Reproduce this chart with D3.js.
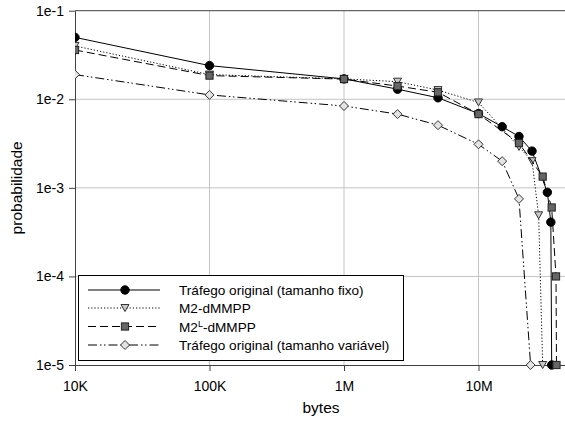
<!DOCTYPE html>
<html><head><meta charset="utf-8">
<script src="https://cdn.jsdelivr.net/npm/d3@7"></script>
<style>
html,body{margin:0;padding:0;background:#fff;}
svg{display:block;font-family:"Liberation Sans",Arial,sans-serif;}
</style></head>
<body><svg id="c" width="565" height="425"></svg>
<script>
// ---- data ----
const xTicks = [1e4, 1e5, 1e6, 1e7];
const xTickLabels = ["10K", "100K", "1M", "10M"];
const yTicks = [1e-5, 1e-4, 1e-3, 1e-2, 1e-1];
const yTickLabels = ["1e-5", "1e-4", "1e-3", "1e-2", "1e-1"];

const fixoX = [1e4, 1e5, 1e6, 2.5e6, 5e6, 1e7, 1.5e7, 2e7, 2.5e7, 3.25e7, 3.45e7, 3.5e7];
const fixoY = [0.05, 0.024, 0.017, 0.013, 0.0104, 0.0069, 0.0049, 0.0038, 0.0026, 0.00089, 0.00041, 1e-5];

const m2X = [1e4, 1e5, 1e6, 2.5e6, 5e6, 1e7, 2e7, 2.5e7, 2.8e7, 3.0e7];
const m2Y = [0.04, 0.019, 0.017, 0.0158, 0.0127, 0.0092, 0.0029, 0.0020, 0.00049, 1e-5];

const m2lX = [1e4, 1e5, 1e6, 2.5e6, 5e6, 1e7, 2e7, 3e7, 3.5e7, 3.77e7, 3.8e7];
const m2lY = [0.036, 0.0185, 0.0169, 0.0141, 0.012, 0.0068, 0.0032, 0.00134, 0.0006, 0.0001, 1e-5];

const varX = [1e4, 1e5, 1e6, 2.5e6, 5e6, 1e7, 1.5e7, 2e7, 2.44e7];
const varY = [0.019, 0.0112, 0.0084, 0.0068, 0.0051, 0.0031, 0.002, 0.00075, 1e-5];

const seriesNames = ["Tráfego original (tamanho fixo)", "M2-dMMPP", "M2L-dMMPP", "Tráfego original (tamanho variável)"];

// ---- layout ----
const svg = d3.select("#c");
const pLeft = 75, pTop = 10.7, pBottom = 365, pRight = 613;
const x = d3.scaleLog().domain([1e4, 1e8]).range([pLeft, pRight]);
const y = d3.scaleLog().domain([1e-5, 1e-1]).range([pBottom, pTop]);

const styles = [
  {dash: null, marker: "circle", fill: "#000", stroke: "#000"},
  {dash: "1.2,2", marker: "tri", fill: "#c8c8c8", stroke: "#333"},
  {dash: "8,4", marker: "square", fill: "#666", stroke: "#222"},
  {dash: "9,3,1.5,2.5,1.5,3", marker: "diamond", fill: "#e4e4e4", stroke: "#333"}
];

const defs = svg.append("defs");
defs.append("clipPath").attr("id", "clip").append("rect")
  .attr("x", pLeft).attr("y", pTop - 6).attr("width", pRight - pLeft + 10).attr("height", pBottom - pTop + 12);

// grid
const g = svg.append("g");
g.selectAll("line.vg").data(xTicks.slice(1)).enter().append("line")
  .attr("x1", d => x(d)).attr("x2", d => x(d)).attr("y1", pTop).attr("y2", pBottom)
  .attr("stroke", "#c4c4c4").attr("stroke-width", 1);
g.selectAll("line.hg").data(yTicks.slice(1, 4)).enter().append("line")
  .attr("x1", pLeft).attr("x2", 565).attr("y1", d => y(d)).attr("y2", d => y(d))
  .attr("stroke", "#c4c4c4").attr("stroke-width", 1);

// top border
svg.append("line").attr("x1", pLeft).attr("x2", 565).attr("y1", pTop).attr("y2", pTop)
  .attr("stroke", "#404040").attr("stroke-width", 1);

// axes
const xAxis = d3.axisBottom(x).tickValues(xTicks).tickFormat((d, i) => xTickLabels[i]).tickSize(6).tickSizeOuter(0);
const yAxis = d3.axisLeft(y).tickValues(yTicks).tickFormat((d, i) => yTickLabels[i]).tickSize(6).tickSizeOuter(0);
const gx = svg.append("g").attr("transform", `translate(0,${pBottom})`).call(xAxis);
const gy = svg.append("g").attr("transform", `translate(${pLeft},0)`).call(yAxis);
[gx, gy].forEach(a => {
  a.select(".domain").attr("stroke", "#404040");
  a.selectAll(".tick line").attr("stroke", "#404040");
  a.selectAll("text").attr("fill", "#000").style("font-size", "14px").style("font-family", "Liberation Sans, Arial, sans-serif");
});
gx.select(".domain").attr("d", `M${pLeft},0.5H565`);
gx.selectAll(".tick text").attr("dy", "1.2em");
gy.selectAll(".tick text").attr("x", -11);

// titles
svg.append("text").attr("x", 321).attr("y", 413).attr("text-anchor", "middle")
  .style("font-size", "15.5px").text("bytes");
svg.append("text").attr("transform", `translate(22,${(pTop + pBottom) / 2}) rotate(-90)`).attr("text-anchor", "middle")
  .style("font-size", "15.5px").text("probabilidade");

// markers
function drawMarker(sel, type, st) {
  if (type === "circle") sel.append("circle").attr("r", 4.2).attr("fill", st.fill).attr("stroke", st.stroke);
  else if (type === "tri") sel.append("path").attr("d", "M-4,-3.5L4,-3.5L0,3.5Z").attr("fill", st.fill).attr("stroke", st.stroke);
  else if (type === "square") sel.append("rect").attr("x", -3.6).attr("y", -3.6).attr("width", 7.2).attr("height", 7.2).attr("fill", st.fill).attr("stroke", st.stroke);
  else sel.append("path").attr("d", "M0,-4.5L4.5,0L0,4.5L-4.5,0Z").attr("fill", st.fill).attr("stroke", st.stroke);
}

const allSeries = [[fixoX, fixoY], [m2X, m2Y], [m2lX, m2lY], [varX, varY]];
const line = d3.line().x(d => x(d[0])).y(d => y(d[1]));
const plot = svg.append("g").attr("clip-path", "url(#clip)");
allSeries.forEach((s, i) => {
  const pts = s[0].map((v, k) => [v, s[1][k]]);
  const st = styles[i];
  plot.append("path").datum(pts).attr("d", line).attr("fill", "none")
    .attr("stroke", "#000").attr("stroke-width", 1)
    .attr("stroke-dasharray", st.dash);
  pts.forEach(p => {
    const m = plot.append("g").attr("transform", `translate(${x(p[0])},${y(p[1])})`);
    drawMarker(m, st.marker, st);
  });
});

// legend
const lg = svg.append("g");
lg.append("rect").attr("x", 78.5).attr("y", 275.5).attr("width", 325).attr("height", 85)
  .attr("fill", "#fff").attr("stroke", "#000").attr("stroke-width", 1);
const rowY = [290, 308, 326.5, 345];
seriesNames.forEach((n, i) => {
  const st = styles[i];
  lg.append("line").attr("x1", 88).attr("x2", 160).attr("y1", rowY[i]).attr("y2", rowY[i])
    .attr("stroke", "#000").attr("stroke-width", 1).attr("stroke-dasharray", st.dash);
  const m = lg.append("g").attr("transform", `translate(125,${rowY[i]})`);
  drawMarker(m, st.marker, st);
  const t = lg.append("text").attr("x", 179).attr("y", rowY[i] + 5).style("font-size", "13.6px");
  if (i === 2) {
    t.append("tspan").text("M2");
    t.append("tspan").attr("dy", -5).style("font-size", "9px").text("L");
    t.append("tspan").attr("dy", 5).text("-dMMPP");
  } else t.text(n);
});
</script></body></html>
